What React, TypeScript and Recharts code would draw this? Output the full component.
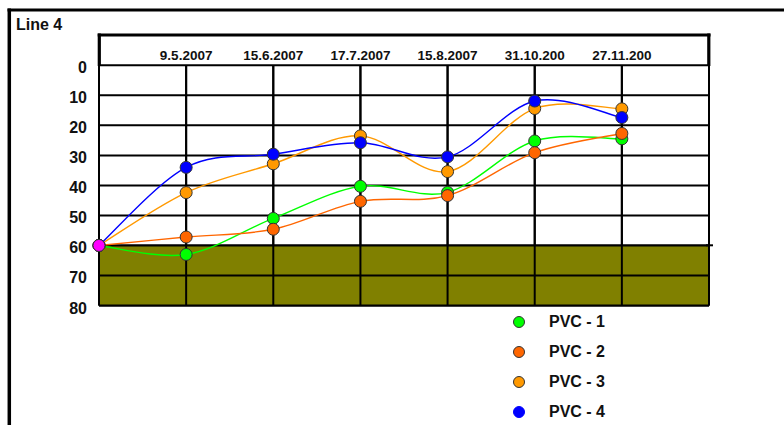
import React from "react";
import {
  LineChart,
  Line,
  XAxis,
  YAxis,
  CartesianGrid,
  ReferenceArea,
  ReferenceLine,
} from "recharts";

const dateLabels = ["9.5.2007", "15.6.2007", "17.7.2007", "15.8.2007", "31.10.200", "27.11.200"];
const pvc1 = [60, 63, 51, 40.3, 42.3, 25.2, 24.5];
const pvc2 = [60, 57.2, 54.6, 45.3, 43.4, 29.1, 22.7];
const pvc3 = [60, 42.4, 32.8, 23.5, 35.4, 14.4, 14.5];
const pvc4 = [60, 34, 29.6, 25.8, 30.5, 11.9, 17.4];
const yTicks = [0, 10, 20, 30, 40, 50, 60, 70, 80];
const xTicks = [0, 1, 2, 3, 4, 5, 6, 7];
const bandFrom = 60;
const bandTo = 80;
const seriesNames = ["PVC - 1", "PVC - 2", "PVC - 3", "PVC - 4"];
const seriesKeys = ["p1", "p2", "p3", "p4"];
const seriesColors = ["#00ff00", "#ff6600", "#ff9900", "#0000ff"];
const startColor = "#ff00ff";

const data = pvc1.map((v, i) => ({ x: i, p1: v, p2: pvc2[i], p3: pvc3[i], p4: pvc4[i] }));

const FONT = "'Liberation Sans', Arial, sans-serif";

// Catmull-Rom style smoothing (like office chart "smoothed line")
function smoothCurve(context: any) {
  let pts: number[][] = [];
  return {
    areaStart() {},
    areaEnd() {},
    lineStart() {
      pts = [];
    },
    point(x: number, y: number) {
      pts.push([+x, +y]);
    },
    lineEnd() {
      const n = pts.length;
      if (!n) return;
      context.moveTo(pts[0][0], pts[0][1]);
      const t = 1 / 6;
      for (let i = 0; i < n - 1; i++) {
        const p0 = pts[i - 1] || pts[i];
        const p1 = pts[i];
        const p2 = pts[i + 1];
        const p3 = pts[i + 2] || p2;
        context.bezierCurveTo(
          p1[0] + (p2[0] - p0[0]) * t,
          p1[1] + (p2[1] - p0[1]) * t,
          p2[0] - (p3[0] - p1[0]) * t,
          p2[1] - (p3[1] - p1[1]) * t,
          p2[0],
          p2[1]
        );
      }
    },
  };
}

const makeDot = (color: string) => (props: any) => {
  const { cx, cy, index } = props;
  if (cx == null || cy == null) return <g key={`d-${index}`} />;
  return (
    <circle
      key={`d-${color}-${index}`}
      cx={cx}
      cy={cy}
      r={6}
      fill={index === 0 ? startColor : color}
      stroke="#333"
      strokeWidth={1}
    />
  );
};

const XTick = (props: any) => {
  const { x, payload } = props;
  const i = payload.value;
  const label = i >= 1 && i <= dateLabels.length ? dateLabels[i - 1] : "";
  if (!label) return <g />;
  return (
    <text x={x} y={59.5} textAnchor="middle" fontFamily={FONT} fontWeight="bold" fontSize={13.5} fill="#111">
      {label}
    </text>
  );
};

const YTick = (props: any) => {
  const { x, y, payload } = props;
  return (
    <text x={x} y={y + 8} textAnchor="end" fontFamily={FONT} fontWeight="bold" fontSize={16} fill="#111">
      {payload.value}
    </text>
  );
};

const LegendBox = () => (
  <div
    style={{
      position: "absolute",
      left: 510,
      top: 307,
      width: 140,
      fontFamily: FONT,
      fontWeight: "bold",
      fontSize: 16,
      color: "#111",
    }}
  >
    {seriesNames.map((name, i) => (
      <div key={name} style={{ height: 30, display: "flex", alignItems: "center" }}>
        <svg width={30} height={30} style={{ display: "block" }}>
          <circle cx={9} cy={15} r={5.5} fill={seriesColors[i]} stroke={i === 3 ? seriesColors[i] : "#333"} strokeWidth={1} />
        </svg>
        <span style={{ marginLeft: 9 }}>{name}</span>
      </div>
    ))}
  </div>
);

export default function App() {
  return (
    <div style={{ position: "absolute", left: 0, top: 0, width: 784, height: 425, background: "#fff", overflow: "hidden" }}>
      <LineChart
        width={784}
        height={425}
        data={data}
        margin={{ top: 35, right: 75, bottom: 119.5, left: 9 }}
      >
        <XAxis
          type="number"
          dataKey="x"
          domain={[0, 7]}
          ticks={xTicks}
          orientation="top"
          height={30.3}
          axisLine={false}
          tickLine={false}
          tick={<XTick />}
          interval={0}
        />
        <YAxis
          type="number"
          domain={[0, 80]}
          ticks={yTicks}
          reversed
          width={90}
          axisLine={false}
          tickLine={false}
          tickSize={6}
          tickMargin={6}
          tick={<YTick />}
          interval={0}
        />
        <CartesianGrid stroke="#000" strokeWidth={2} />
        <ReferenceArea y1={bandFrom} y2={bandTo} fill="#808000" fillOpacity={1} stroke="none" />
        {yTicks
          .filter((t) => t >= bandFrom)
          .map((t) => (
            <ReferenceLine key={`hy-${t}`} y={t} stroke="#000" strokeWidth={2} />
          ))}
        {xTicks.map((t) => (
          <ReferenceLine key={`vx-${t}`} x={t} stroke="#000" strokeWidth={2} />
        ))}
        {seriesKeys.map((k, i) => (
          <Line
            key={k}
            dataKey={k}
            name={seriesNames[i]}
            type={smoothCurve as any}
            stroke={seriesColors[i]}
            strokeWidth={1.4}
            dot={makeDot(seriesColors[i])}
            activeDot={false}
            isAnimationActive={false}
          />
        ))}
      </LineChart>
      <LegendBox />
      <svg width={784} height={425} style={{ position: "absolute", left: 0, top: 0, pointerEvents: "none" }}>
        {/* outer frame */}
        <line x1={7.5} y1={10} x2={784} y2={10} stroke="#000" strokeWidth={3} />
        <line x1={9.3} y1={8.5} x2={9.3} y2={425} stroke="#000" strokeWidth={3.5} />
        <text x={16} y={30} fontFamily={FONT} fontWeight="bold" fontSize={16} fill="#111">
          Line 4
        </text>
        {/* header box */}
        <line x1={97.7} y1={35} x2={710.5} y2={35} stroke="#000" strokeWidth={3.2} />
        <line x1={99.3} y1={33.5} x2={99.3} y2={66} stroke="#000" strokeWidth={3.2} />
        <line x1={708.8} y1={33.5} x2={708.8} y2={66} stroke="#000" strokeWidth={3.2} />
        <line x1={706} y1={245.3} x2={713} y2={245.3} stroke="#000" strokeWidth={2} />
      </svg>
    </div>
  );
}
